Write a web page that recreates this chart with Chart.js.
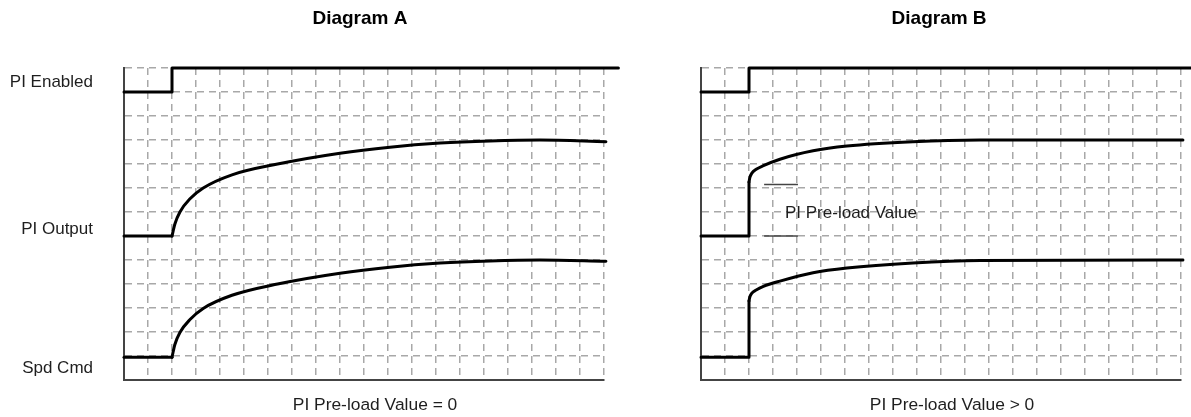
<!DOCTYPE html>
<html>
<head>
<meta charset="utf-8">
<script src="https://cdn.jsdelivr.net/npm/chart.js@4.4.1/dist/chart.umd.min.js"></script>
<style>
  html, body { margin: 0; padding: 0; background: #fff; }
  #wrap { position: relative; width: 1191px; height: 417px; overflow: hidden; }
  #chartA { position: absolute; left: 0; top: 0; }
  #chartB { position: absolute; left: 650px; top: 0; }
</style>
</head>
<body>
<div id="wrap">
  <canvas id="chartA" width="650" height="417"></canvas>
  <canvas id="chartB" width="541" height="417"></canvas>
</div>
<script>
// grid is 20 columns x 13 rows, values are in grid units
var cols = 20, rows = 13;

var rowLabels = ["PI Enabled", "PI Output", "Spd Cmd"];
var labelRows = [12.4, 6.26, 0.48];

// PI Enabled (same in both diagrams)
var enabledX = [0, 2, 2, 20.6];
var enabledY = [12, 12, 13, 13];

// Diagram A - pre-load = 0
var aOutBaseX = [0, 2];
var aOutBaseY = [6, 6];
var aOutX = [2, 2.12, 2.33, 2.75, 3.3, 4.5, 6.4, 9, 11.08, 13.17, 15.25, 17.33, 20.08];
var aOutY = [6, 6.5, 7, 7.55, 8, 8.55, 9, 9.45, 9.7, 9.87, 9.96, 10, 9.93];
var aCmdBaseX = [0, 2];
var aCmdBaseY = [0.95, 0.95];
var aCmdX = [2, 2.12, 2.33, 2.75, 3.3, 4.5, 6.4, 9, 11.08, 13.17, 15.25, 17.33, 20.08];
var aCmdY = [0.95, 1.48, 1.98, 2.52, 2.98, 3.53, 4, 4.45, 4.7, 4.87, 4.96, 5, 4.95];

// Diagram B - pre-load > 0
var bOutBaseX = [0, 2, 2];
var bOutBaseY = [6, 6, 8.25];
var bOutX = [2, 2.04, 2.12, 2.3, 2.6, 3.29, 4.67, 6.08, 8.83, 11.63, 20.08];
var bOutY = [8.25, 8.45, 8.62, 8.78, 8.93, 9.2, 9.55, 9.75, 9.93, 10, 10];
var bCmdBaseX = [0, 2, 2];
var bCmdBaseY = [0.95, 0.95, 3.3];
var bCmdX = [2, 2.04, 2.12, 2.3, 2.6, 3.29, 4.67, 6.08, 8.83, 11.63, 20.08];
var bCmdY = [3.3, 3.48, 3.62, 3.75, 3.9, 4.12, 4.47, 4.67, 4.88, 4.98, 5];
var preloadX = [2.63, 4.04];
var preloadTopY = [8.15, 8.15];
var preloadLowY = [6, 6];

var FONT = "'Liberation Sans', Arial, Helvetica, sans-serif";
var gridColor = "#a8a8a8";
var axisColor = "#444";
var textColor = "#1e1e1e";

function pts(xs, ys) {
    return xs.map(function(x, i) { return { x: x, y: ys[i] }; });
}

function line(xs, ys, extra) {
    return Object.assign({
        data: pts(xs, ys),
        xAxisID: "x",
        yAxisID: "y",
        borderColor: "#000",
        borderWidth: 3,
        pointRadius: 0,
        tension: 0,
        fill: false,
        clip: false,
        borderCapStyle: "round",
        borderJoinStyle: "round"
    }, extra || {});
}

function curve(xs, ys) {
    return line(xs, ys, { cubicInterpolationMode: "monotone", capBezierPoints: false });
}

// text drawn at grid-unit positions through the chart's scales
var textPlugin = {
    id: "texts",
    afterDatasetsDraw: function(chart, args, opts) {
        var ctx = chart.ctx, sx = chart.scales.x, sy = chart.scales.y;
        (opts.items || []).forEach(function(t) {
            ctx.save();
            ctx.font = (t.bold ? "bold " : "") + t.size + "px " + FONT;
            ctx.fillStyle = t.bold ? "#000" : textColor;
            ctx.textAlign = t.align || "center";
            ctx.textBaseline = "middle";
            ctx.fillText(t.text, sx.getPixelForValue(t.x), sy.getPixelForValue(t.y));
            ctx.restore();
        });
    }
};

function scales(withLabels) {
    var s = {
        x: {
            type: "linear", min: 0, max: cols,
            ticks: { display: false, stepSize: 1 },
            grid: { color: gridColor, lineWidth: 1.5, drawTicks: false },
            border: { display: true, color: axisColor, width: 2, dash: [7, 5] }
        },
        y: {
            type: "linear", position: "left", min: 0, max: rows, weight: 0,
            ticks: { display: false, stepSize: 1 },
            grid: { color: gridColor, lineWidth: 1.5, drawTicks: false },
            border: { display: true, color: axisColor, width: 2, dash: [7, 5] }
        }
    };
    if (withLabels) {
        s.yl = {
            type: "linear", position: "left", min: 0, max: rows, weight: 10,
            afterBuildTicks: function(sc) {
                sc.ticks = labelRows.map(function(v) { return { value: v }; });
            },
            afterFit: function(sc) { sc.width = 124; },
            ticks: {
                autoSkip: false, padding: 23, color: textColor,
                font: { family: FONT, size: 17 },
                callback: function(v, i) { return rowLabels[i]; }
            },
            grid: { display: false },
            border: { display: false }
        };
    }
    return s;
}

function makeChart(id, datasets, pad, withLabels, texts) {
    return new Chart(document.getElementById(id), {
        type: "line",
        data: { datasets: datasets },
        options: {
            responsive: false,
            animation: false,
            devicePixelRatio: 1,
            layout: { padding: pad },
            scales: scales(withLabels),
            plugins: {
                legend: { display: false },
                tooltip: { enabled: false },
                texts: { items: texts }
            }
        },
        plugins: [textPlugin]
    });
}

makeChart("chartA", [
    line(enabledX, enabledY),
    line(aOutBaseX, aOutBaseY),
    curve(aOutX, aOutY),
    line(aCmdBaseX, aCmdBaseY),
    curve(aCmdX, aCmdY)
], { left: 0, right: 46, top: 68, bottom: 37 }, true, [
    { text: "Diagram A", x: 9.83, y: 15.04, size: 19, bold: true },
    { text: "PI Pre-load Value = 0", x: 10.46, y: -1.04, size: 17.4 }
]);

makeChart("chartB", [
    line(enabledX, enabledY),
    line(bOutBaseX, bOutBaseY),
    curve(bOutX, bOutY),
    line(bCmdBaseX, bCmdBaseY),
    curve(bCmdX, bCmdY),
    line(preloadX, preloadTopY, { borderWidth: 1.5, borderColor: axisColor, borderCapStyle: "butt" }),
    line(preloadX, preloadLowY, { borderWidth: 1.5, borderColor: axisColor, borderCapStyle: "butt" })
], { left: 51, right: 10, top: 68, bottom: 37 }, false, [
    { text: "Diagram B", x: 9.92, y: 15.04, size: 19, bold: true },
    { text: "PI Pre-load Value > 0", x: 10.46, y: -1.04, size: 17.4 },
    { text: "PI Pre-load Value", x: 3.5, y: 6.94, size: 17, align: "left" }
]);
</script>
</body>
</html>
